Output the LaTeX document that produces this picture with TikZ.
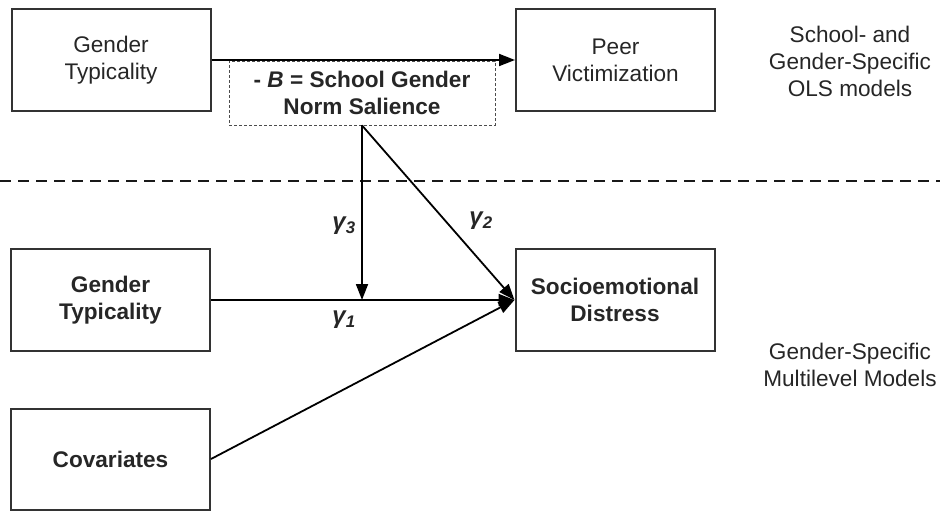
\documentclass[tikz,border=0pt]{standalone}
\usepackage{fontspec}
\setmainfont{Liberation Sans}
\usepackage{xcolor}
\usepackage{tikz}
\usetikzlibrary{arrows.meta, positioning, calc}

\definecolor{boxline}{HTML}{333333}

\begin{document}
\begin{tikzpicture}[x=1pt, y=-1pt,
    every node/.style={font=\fontsize{22.6}{27}\selectfont, text=black!85},
    varbox/.style={draw=boxline, line width=2pt, minimum width=199pt, minimum height=102pt, align=center, inner sep=0pt},
    modbox/.style={draw=black!70, line width=0.8pt, dash pattern=on 3pt off 2pt, minimum width=266pt, minimum height=64pt, align=center, inner sep=0pt},
    arr/.style={-{Triangle[length=16pt, width=12pt]}, line width=1.8pt, black},
    coef/.style={font=\fontsize{24}{28}\selectfont\bfseries\itshape}]
\useasboundingbox (0,0) rectangle (940,511);

% Upper level: school- and gender-specific OLS models
\node[varbox] (gtop) at (111, 60) {Gender\\Typicality};
\node[varbox] (peer) at (615.5, 60) {Peer\\Victimization};
\node[modbox, font=\fontsize{22.6}{27}\selectfont\bfseries] (mod) at (362, 93) {- \textit{B} = School Gender\\Norm Salience};
\node[align=center] (olsnote) at (850, 61) {School- and\\Gender-Specific\\OLS models};

\draw[arr] (gtop) -- (peer);

% Separator between the two levels
\draw[line width=2pt, dash pattern=on 11pt off 7pt, black!90] (0,181) -- (940,181);

% Lower level: gender-specific multilevel models
\node[varbox, font=\fontsize{22.6}{27}\selectfont\bfseries] (gtlow) at (110.5, 300) {Gender\\Typicality};
\node[varbox, font=\fontsize{22.6}{27}\selectfont\bfseries] (socio) at (615, 300) {Socioemotional\\Distress};
\node[varbox, minimum height=101pt, font=\fontsize{22.6}{27}\selectfont\bfseries] (cov) at (110.5, 459) {Covariates};
\node[align=center] (mlmnote) at (850, 365) {Gender-Specific\\Multilevel Models};

\coordinate (hit) at (gtlow.east -| mod.south);
\draw[line width=1.8pt, black] (gtlow.east) -- (hit);
\draw[arr] (hit) -- (socio.west);
\draw[arr] (mod.south) -- (hit);
\draw[arr] (mod.south) -- (socio.west);
\draw[arr] (cov.east) -- (socio.west);

% Path coefficients
\node[coef] (g3) at (344, 226) {γ\textsubscript{3}};
\node[coef] (g2) at (481, 221) {γ\textsubscript{2}};
\node[coef] (g1) at (344, 320) {γ\textsubscript{1}};
\end{tikzpicture}
\end{document}
